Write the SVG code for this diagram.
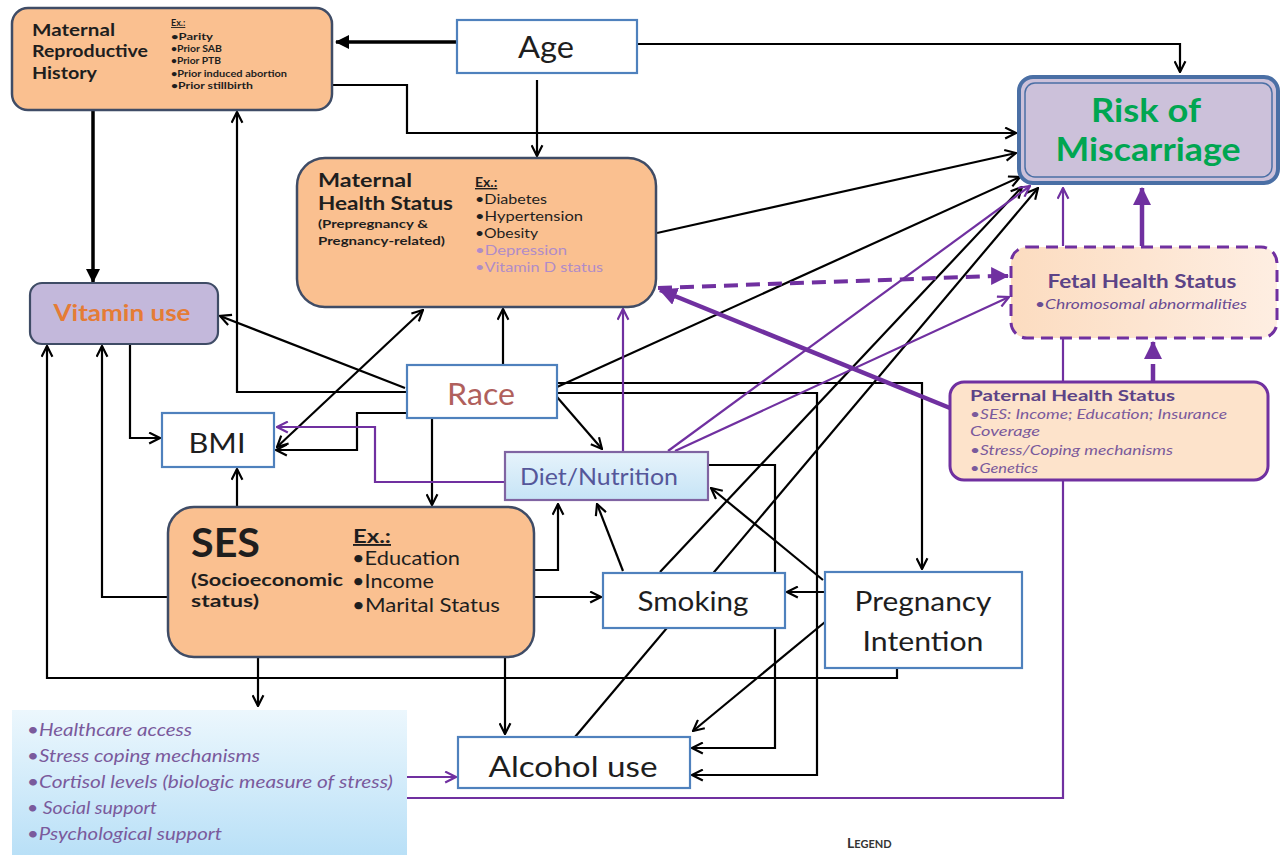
<svg xmlns="http://www.w3.org/2000/svg" width="1283" height="861" viewBox="0 0 1283 861">
<style>
text{font-family:Lato,"Open Sans","Liberation Sans",sans-serif;fill:#1e1e1e}
.k{fill:none;stroke:#000;stroke-width:2.2}
.p{fill:none;stroke:#7030a0;stroke-width:2.2}
.peach{fill:#fac090;stroke:#3f4c66;stroke-width:2.5}
.blue{fill:#fff;stroke:#4f81bd;stroke-width:2.2}
.b{font-weight:bold}
.it{font-style:italic}
.lp{fill:#b08cc8}
.pi{fill:#7a5a9c;font-style:italic}
</style>
<defs>
<marker id="a" viewBox="0 0 12 12" refX="11" refY="6" markerWidth="13" markerHeight="13" markerUnits="userSpaceOnUse" orient="auto-start-reverse"><path d="M1,1 L11,6 L1,11" fill="none" stroke="#000" stroke-width="2"/></marker>
<marker id="ap" viewBox="0 0 12 12" refX="11" refY="6" markerWidth="13" markerHeight="13" markerUnits="userSpaceOnUse" orient="auto"><path d="M1,1 L11,6 L1,11" fill="none" stroke="#7030a0" stroke-width="2"/></marker>
<marker id="t" viewBox="0 0 14 14" refX="13" refY="7" markerWidth="14" markerHeight="14" markerUnits="userSpaceOnUse" orient="auto"><path d="M0,0 L14,7 L0,14 z" fill="#000"/></marker>
<marker id="tp" viewBox="0 0 16 16" refX="15" refY="8" markerWidth="18" markerHeight="18" markerUnits="userSpaceOnUse" orient="auto"><path d="M0,0 L16,8 L0,16 z" fill="#7030a0"/></marker>
<linearGradient id="hc" x1="0" y1="0" x2="0" y2="1"><stop offset="0" stop-color="#ecf7fd"/><stop offset="1" stop-color="#b9e0f7"/></linearGradient>
<linearGradient id="dg" x1="0" y1="0" x2="0" y2="1"><stop offset="0" stop-color="#e6f3fb"/><stop offset="1" stop-color="#c6e4f6"/></linearGradient>
<linearGradient id="fg" x1="0" y1="0" x2="1" y2="0"><stop offset="0" stop-color="#fcdcc0"/><stop offset="1" stop-color="#feeee2"/></linearGradient>
</defs>

<g id="connectors">
<path class="k" style="stroke-width:3.5" d="M457,42 L336,42" marker-end="url(#t)"/>
<path class="k" d="M637,44 L1180,44 L1180,72" marker-end="url(#a)"/>
<path class="k" d="M537,80 L537,156" marker-end="url(#a)"/>
<path class="k" d="M332,85 L407,85 L407,133 L1016,133" marker-end="url(#a)"/>
<path class="k" style="stroke-width:3.5" d="M93,110 L93,282" marker-end="url(#t)"/>
<path class="k" d="M657,233 L1016,153" marker-end="url(#a)"/>
<path class="k" d="M557,387 L1020,177" marker-end="url(#a)"/>
<path class="k" d="M557,383 L922,383 L922,569" marker-end="url(#a)"/>
<path class="k" d="M557,393 L817,393 L817,775 L692,775" marker-end="url(#a)"/>
<path class="k" d="M557,397 L602,449" marker-end="url(#a)"/>
<path class="k" d="M432,418 L432,505" marker-end="url(#a)"/>
<path class="k" d="M503,365 L503,309" marker-end="url(#a)"/>
<path class="k" d="M407,392 L237,392 L237,112" marker-end="url(#a)"/>
<path class="k" d="M405,388 L220,316" marker-end="url(#a)"/>
<path class="k" d="M407,413 L357,413 L357,450 L276,450" marker-end="url(#a)"/>
<path class="k" d="M277,447 L423,310" marker-start="url(#a)" marker-end="url(#a)"/>
<path class="k" d="M130,344 L130,438 L160,438" marker-end="url(#a)"/>
<path class="k" d="M237,507 L237,469" marker-end="url(#a)"/>
<path class="k" d="M168,597 L102,597 L102,346" marker-end="url(#a)"/>
<path class="k" d="M897,668 L897,678 L47,678 L47,346" marker-end="url(#a)"/>
<path class="k" d="M535,570 L558,570 L558,504" marker-end="url(#a)"/>
<path class="k" d="M535,597 L601,597" marker-end="url(#a)"/>
<path class="k" d="M258,657 L258,706" marker-end="url(#a)"/>
<path class="k" d="M505,657 L505,734" marker-end="url(#a)"/>
<path class="k" d="M623,571 L597,504" marker-end="url(#a)"/>
<path class="k" d="M660,572 L1022,187" marker-end="url(#a)"/>
<path class="k" d="M575,737 L1038,188" marker-end="url(#a)"/>
<path class="k" d="M708,465 L775,465 L775,748 L692,748" marker-end="url(#a)"/>
<path class="k" d="M823,580 L711,488" marker-end="url(#a)"/>
<path class="k" d="M825,592 L787,592" marker-end="url(#a)"/>
<path class="k" d="M825,622 L693,731" marker-end="url(#a)"/>
<path class="p" d="M505,482 L375,482 L375,427 L277,427" marker-end="url(#ap)"/>
<path class="p" d="M623,451 L623,309" marker-end="url(#ap)"/>
<path class="p" d="M668,451 L1030,186" marker-end="url(#ap)"/>
<path class="p" d="M675,451 L1009,297" marker-end="url(#ap)"/>
<path class="p" style="stroke-width:4;stroke-dasharray:14,8" d="M658,288 L995,276"/>
<path class="p" style="stroke-width:4" d="M995,276 L1008,276" marker-end="url(#tp)"/>
<path class="p" style="stroke-width:4.5" d="M950,408 L660,290" marker-end="url(#tp)"/>
<path class="p" style="stroke-width:4.5;stroke-dasharray:18,6" d="M1153,382 L1153,342" marker-end="url(#tp)"/>
<path class="p" d="M1063,246 L1063,188" marker-end="url(#ap)"/>
<path class="p" style="stroke-width:4.5" d="M1142,246 L1142,188" marker-end="url(#tp)"/>
<path class="p" d="M407,798 L1063,798 L1063,339"/>
<path class="p" d="M407,777 L456,777" marker-end="url(#ap)"/>
</g>

<g id="maternal-reproductive-history">
<rect class="peach" x="12" y="8" width="320" height="102" rx="16"/>
<text class="b" x="32" y="36" font-size="17" textLength="83" lengthAdjust="spacingAndGlyphs">Maternal</text>
<text class="b" x="32" y="57" font-size="17" textLength="116" lengthAdjust="spacingAndGlyphs">Reproductive</text>
<text class="b" x="32" y="79" font-size="17" textLength="65" lengthAdjust="spacingAndGlyphs">History</text>
<text class="b" x="171" y="26" font-size="9" text-decoration="underline">Ex.:</text>
<text class="b" x="171" y="40" font-size="8.5" textLength="42" lengthAdjust="spacingAndGlyphs">•Parity</text>
<text class="b" x="171" y="52" font-size="8.5" textLength="51" lengthAdjust="spacingAndGlyphs">•Prior SAB</text>
<text class="b" x="171" y="64" font-size="8.5" textLength="50" lengthAdjust="spacingAndGlyphs">•Prior PTB</text>
<text class="b" x="171" y="77" font-size="8.5" textLength="116" lengthAdjust="spacingAndGlyphs">•Prior induced abortion</text>
<text class="b" x="171" y="89" font-size="8.5" textLength="82" lengthAdjust="spacingAndGlyphs">•Prior stillbirth</text>
</g>

<g id="age">
<rect class="blue" x="457" y="20" width="180" height="53"/>
<text x="546" y="58" font-size="30" text-anchor="middle" textLength="56" lengthAdjust="spacingAndGlyphs">Age</text>
</g>

<g id="risk-of-miscarriage">
<rect x="1019" y="77" width="259" height="106" rx="14" fill="#ccc1da" stroke="#4a6fa5" stroke-width="4"/>
<rect x="1025" y="83" width="247" height="94" rx="10" fill="none" stroke="#4a6fa5" stroke-width="1.5"/>
<text class="b" x="1146" y="122" font-size="33" text-anchor="middle" textLength="110" lengthAdjust="spacingAndGlyphs" style="fill:#00a651">Risk of</text>
<text class="b" x="1148" y="161" font-size="33" text-anchor="middle" textLength="185" lengthAdjust="spacingAndGlyphs" style="fill:#00a651">Miscarriage</text>
</g>

<g id="maternal-health-status">
<rect class="peach" x="297" y="158" width="359" height="149" rx="28"/>
<text class="b" x="318" y="187" font-size="18.5" textLength="94" lengthAdjust="spacingAndGlyphs">Maternal</text>
<text class="b" x="318" y="210" font-size="18.5" textLength="135" lengthAdjust="spacingAndGlyphs">Health Status</text>
<text class="b" x="318" y="228" font-size="11.5" textLength="110" lengthAdjust="spacingAndGlyphs">(Prepregnancy &amp;</text>
<text class="b" x="318" y="245" font-size="11.5" textLength="127" lengthAdjust="spacingAndGlyphs">Pregnancy-related)</text>
<text class="b" x="475" y="187" font-size="14" text-decoration="underline">Ex.:</text>
<text x="475" y="204" font-size="14" textLength="72" lengthAdjust="spacingAndGlyphs">•Diabetes</text>
<text x="475" y="221" font-size="14" textLength="108" lengthAdjust="spacingAndGlyphs">•Hypertension</text>
<text x="475" y="238" font-size="14" textLength="63" lengthAdjust="spacingAndGlyphs">•Obesity</text>
<text class="lp" x="475" y="255" font-size="14" textLength="92" lengthAdjust="spacingAndGlyphs">•Depression</text>
<text class="lp" x="475" y="272" font-size="14" textLength="128" lengthAdjust="spacingAndGlyphs">•Vitamin D status</text>
</g>

<g id="vitamin-use">
<rect x="30" y="283" width="188" height="61" rx="12" fill="#c3b8db" stroke="#3f4c66" stroke-width="2.2"/>
<text class="b" x="122" y="321" font-size="22" text-anchor="middle" textLength="137" lengthAdjust="spacingAndGlyphs" style="fill:#e57c35">Vitamin use</text>
</g>

<g id="fetal-health-status">
<rect x="1011" y="247" width="266" height="91" rx="16" fill="url(#fg)" stroke="#7030a0" stroke-width="3" stroke-dasharray="12,7"/>
<text class="b" x="1142" y="288" font-size="18" text-anchor="middle" textLength="189" lengthAdjust="spacingAndGlyphs" style="fill:#5c4387">Fetal Health Status</text>
<text class="it" x="1141" y="309" font-size="14" text-anchor="middle" textLength="212" lengthAdjust="spacingAndGlyphs" style="fill:#6a4c93">•Chromosomal abnormalities</text>
</g>

<g id="paternal-health-status">
<rect x="950" y="382" width="318" height="98" rx="14" fill="#fde3cb" stroke="#7030a0" stroke-width="3"/>
<text class="b" x="970" y="401" font-size="16" textLength="205" lengthAdjust="spacingAndGlyphs" style="fill:#5c4387">Paternal Health  Status</text>
<text class="pi" x="970" y="419" font-size="13.5" textLength="257" lengthAdjust="spacingAndGlyphs">•SES: Income; Education; Insurance</text>
<text class="pi" x="970" y="436" font-size="13.5" textLength="70" lengthAdjust="spacingAndGlyphs">Coverage</text>
<text class="pi" x="970" y="455" font-size="13.5" textLength="203" lengthAdjust="spacingAndGlyphs">•Stress/Coping mechanisms</text>
<text class="pi" x="970" y="473" font-size="13.5" textLength="68" lengthAdjust="spacingAndGlyphs">•Genetics</text>
</g>

<g id="race">
<rect class="blue" x="407" y="365" width="150" height="53"/>
<text x="481" y="405" font-size="30" text-anchor="middle" textLength="68" lengthAdjust="spacingAndGlyphs" style="fill:#b0605c">Race</text>
</g>

<g id="bmi">
<rect class="blue" x="162" y="413" width="112" height="54"/>
<text x="217" y="453" font-size="27" text-anchor="middle" textLength="57" lengthAdjust="spacingAndGlyphs">BMI</text>
</g>

<g id="diet-nutrition">
<rect x="505" y="452" width="203" height="48" fill="url(#dg)" stroke="#8064a2" stroke-width="2.2"/>
<text x="599" y="485" font-size="23" text-anchor="middle" textLength="158" lengthAdjust="spacingAndGlyphs" style="fill:#55579a">Diet/Nutrition</text>
</g>

<g id="ses">
<rect class="peach" x="168" y="507" width="366" height="150" rx="26"/>
<text class="b" x="191" y="557" font-size="40" textLength="69" lengthAdjust="spacingAndGlyphs">SES</text>
<text class="b" x="191" y="586" font-size="17.5" textLength="152" lengthAdjust="spacingAndGlyphs">(Socioeconomic</text>
<text class="b" x="191" y="607" font-size="17.5" textLength="68" lengthAdjust="spacingAndGlyphs">status)</text>
<text class="b" x="353" y="543" font-size="19" text-decoration="underline" textLength="38" lengthAdjust="spacingAndGlyphs">Ex.:</text>
<text x="352" y="565" font-size="19" textLength="108" lengthAdjust="spacingAndGlyphs">•Education</text>
<text x="352" y="588" font-size="19" textLength="82" lengthAdjust="spacingAndGlyphs">•Income</text>
<text x="352" y="612" font-size="19" textLength="148" lengthAdjust="spacingAndGlyphs">•Marital Status</text>
</g>

<g id="smoking">
<rect class="blue" x="603" y="573" width="182" height="55"/>
<text x="693" y="611" font-size="27" text-anchor="middle" textLength="111" lengthAdjust="spacingAndGlyphs">Smoking</text>
</g>

<g id="pregnancy-intention">
<rect class="blue" x="825" y="572" width="197" height="96"/>
<text x="923" y="611" font-size="27" text-anchor="middle" textLength="137" lengthAdjust="spacingAndGlyphs">Pregnancy</text>
<text x="923" y="651" font-size="27" text-anchor="middle" textLength="121" lengthAdjust="spacingAndGlyphs">Intention</text>
</g>

<g id="alcohol-use">
<rect class="blue" x="458" y="737" width="232" height="51"/>
<text x="573" y="777" font-size="29" text-anchor="middle" textLength="169" lengthAdjust="spacingAndGlyphs">Alcohol use</text>
</g>

<g id="stress-factors">
<rect x="12" y="710" width="395" height="145" fill="url(#hc)"/>
<text class="pi" x="27" y="736" font-size="17" textLength="165" lengthAdjust="spacingAndGlyphs">•Healthcare access</text>
<text class="pi" x="27" y="762" font-size="17" textLength="233" lengthAdjust="spacingAndGlyphs">•Stress coping mechanisms</text>
<text class="pi" x="27" y="788" font-size="17" textLength="366" lengthAdjust="spacingAndGlyphs">•Cortisol levels (biologic measure of stress)</text>
<text class="pi" x="27" y="814" font-size="17" textLength="130" lengthAdjust="spacingAndGlyphs">• Social support</text>
<text class="pi" x="27" y="840" font-size="17" textLength="195" lengthAdjust="spacingAndGlyphs">•Psychological support</text>
</g>

<g id="legend">
<text class="b" x="847" y="848" style="fill:#333"><tspan font-size="14">L</tspan><tspan font-size="11">EGEND</tspan></text>
</g>
</svg>
